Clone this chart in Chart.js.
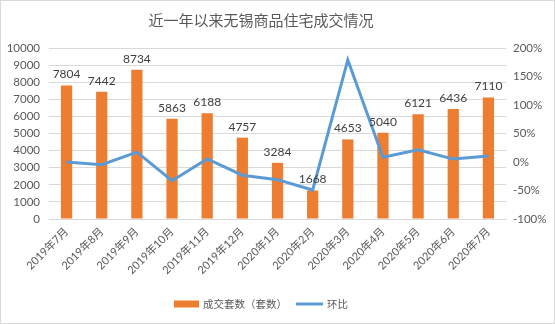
<!DOCTYPE html>
<html>
<head>
<meta charset="utf-8">
<script src="https://cdn.jsdelivr.net/npm/chart.js@4/dist/chart.umd.min.js"></script>
<style>
    html, body { margin: 0; padding: 0; background: #fff; }
    #wrap { position: relative; width: 555px; height: 324px; }
</style>
</head>
<body>
<div id="wrap"><canvas id="salesChart" width="555" height="324"></canvas></div>
<script>
const months = ['2019年7月', '2019年8月', '2019年9月', '2019年10月', '2019年11月', '2019年12月',
    '2020年1月', '2020年2月', '2020年3月', '2020年4月', '2020年5月', '2020年6月', '2020年7月'];
const dealCounts = [7804, 7442, 8734, 5863, 6188, 4757, 3284, 1668, 4653, 5040, 6121, 6436, 7110];
const momChange = [0, -4.6, 17.4, -32.9, 5.5, -23.1, -31.0, -49.2, 179, 8.3, 21.4, 5.1, 10.5];
const leftTicks = [0, 1000, 2000, 3000, 4000, 5000, 6000, 7000, 8000, 9000, 10000];
const rightTicks = [-100, -50, 0, 50, 100, 150, 200];

const TITLE = '近一年以来无锡商品住宅成交情况';
const ORANGE = '#ED7D31';
const BLUE = '#5B9BD5';
const TEXT = '#595959';
const GRID = '#D9D9D9';
const NUM_FONT = "Lato, 'Noto Sans CJK SC', sans-serif";
const CJK_FONT = "'Noto Sans CJK SC', sans-serif";

// title, bar value labels, legend and outer frame
const decorPlugin = {
    id: 'decor',
    afterDatasetsDraw(chart) {
        const ctx = chart.ctx;
        const meta = chart.getDatasetMeta(0);
        ctx.save();
        ctx.fillStyle = '#404040';
        ctx.font = `12px ${NUM_FONT}`;
        ctx.textAlign = 'center';
        ctx.textBaseline = 'bottom';
        meta.data.forEach((bar, i) => {
            ctx.fillText(String(dealCounts[i]), bar.x, bar.y - 5);
        });
        ctx.restore();
    },
    afterDraw(chart) {
        const ctx = chart.ctx;
        ctx.save();
        // frame
        ctx.strokeStyle = GRID;
        ctx.lineWidth = 1;
        ctx.strokeRect(0.5, 0.5, chart.width - 1, chart.height - 1);

        // title
        ctx.fillStyle = TEXT;
        ctx.font = `15px ${CJK_FONT}`;
        ctx.textAlign = 'center';
        ctx.textBaseline = 'middle';
        ctx.fillText(TITLE, 261, 20);

        // legend
        const ly = 304;
        ctx.font = `10.5px ${CJK_FONT}`;
        ctx.textAlign = 'left';
        let x = 174;
        chart.data.datasets.forEach(ds => {
            if (ds.type === 'line') {
                ctx.strokeStyle = ds.borderColor;
                ctx.lineWidth = 3;
                ctx.beginPath();
                ctx.moveTo(x, ly);
                ctx.lineTo(x + 27, ly);
                ctx.stroke();
                x += 31;
            } else {
                ctx.fillStyle = ds.backgroundColor;
                ctx.fillRect(x, ly - 3.5, 25, 7);
                x += 29;
            }
            ctx.fillStyle = TEXT;
            ctx.fillText(ds.label, x, ly);
            x += ctx.measureText(ds.label).width + 9;
        });
        ctx.restore();
    }
};

new Chart(document.getElementById('salesChart'), {
    data: {
        labels: months,
        datasets: [
            {
                type: 'bar',
                label: '成交套数（套数）',
                data: dealCounts,
                yAxisID: 'yLeft',
                backgroundColor: ORANGE,
                categoryPercentage: 1,
                barPercentage: 0.32,
                order: 1
            },
            {
                type: 'line',
                label: '环比',
                data: momChange,
                yAxisID: 'yRight',
                borderColor: BLUE,
                backgroundColor: BLUE,
                borderWidth: 3,
                pointRadius: 0,
                tension: 0,
                order: 0
            }
        ]
    },
    options: {
        responsive: false,
        animation: false,
        events: [],
        layout: { padding: { top: 48, left: 0, right: 0, bottom: 0 } },
        plugins: {
            legend: { display: false },
            title: { display: false },
            tooltip: { enabled: false }
        },
        scales: {
            x: {
                grid: { display: false, drawTicks: false },
                border: { color: GRID },
                ticks: {
                    color: TEXT,
                    font: { size: 11, family: NUM_FONT },
                    minRotation: 45,
                    maxRotation: 45,
                    padding: 6,
                    autoSkip: false
                },
                afterFit(scale) { scale.height = 105; }
            },
            yLeft: {
                position: 'left',
                min: 0,
                max: 10000,
                afterBuildTicks(scale) { scale.ticks = leftTicks.map(v => ({ value: v })); },
                grid: { color: GRID, drawTicks: false },
                border: { display: false },
                ticks: {
                    color: TEXT,
                    font: { size: 11.5, family: NUM_FONT },
                    padding: 9,
                    callback: v => String(v)
                },
                afterFit(scale) { scale.width = 49; }
            },
            yRight: {
                position: 'right',
                min: -100,
                max: 200,
                afterBuildTicks(scale) { scale.ticks = rightTicks.map(v => ({ value: v })); },
                grid: { drawOnChartArea: false, drawTicks: false },
                border: { display: false },
                ticks: {
                    color: TEXT,
                    font: { size: 11.5, family: NUM_FONT },
                    padding: 7,
                    callback: v => v + '%'
                },
                afterFit(scale) { scale.width = 49; }
            }
        }
    },
    plugins: [decorPlugin]
});
</script>
</body>
</html>
